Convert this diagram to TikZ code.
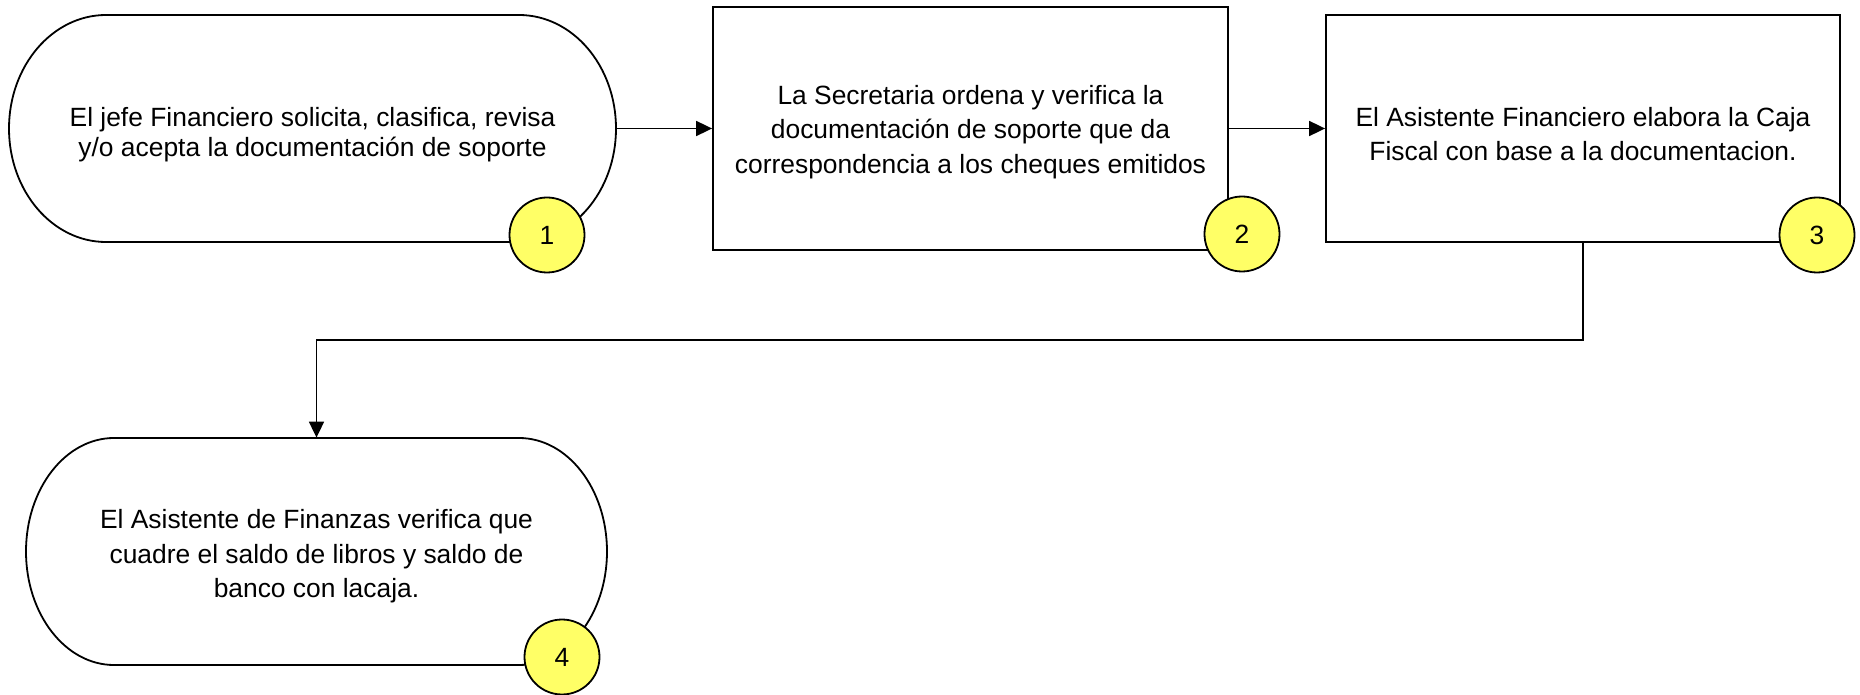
\documentclass[tikz,border=0pt]{standalone}
\usepackage{fontspec}
\setmainfont{Liberation Sans}
\usepackage{tikz}
\usetikzlibrary{arrows.meta}
\usetikzlibrary{positioning}

\begin{document}
\begin{tikzpicture}[x=0.5pt,y=0.5pt,yscale=-1,xscale=1,
  txt/.style={align=center,inner sep=0pt,font=\fontsize{13.2}{17.2}\selectfont},
  proc/.style={draw,line width=0.9pt,inner sep=0pt},
  numb/.style={circle,draw,line width=0.9pt,fill={rgb,255:red,255;green,255;blue,102},minimum size=37.5pt,inner sep=0pt,font=\fontsize{13.2}{15.5}\selectfont},
  arr/.style={line width=0.9pt,-{Triangle[length=8pt,width=7.5pt]}}]
%set diagram left start at 0, and has height of 695
\useasboundingbox (0,0) rectangle (1860,695);

%Shape: Terminator [id:t1]
\draw [line width=0.9pt,fill=white] (106,15) -- (519,15) arc[start angle=-90,end angle=90,x radius=97,y radius=113.5] -- (106,242) arc[start angle=90,end angle=270,x radius=97,y radius=113.5] -- cycle ;
\node (jefe) [inner sep=0pt,minimum width=303.5pt,minimum height=113.5pt] at (312.5,128.5) {};
% Text Node
\node (jefetxt) [txt,font=\fontsize{13.2}{14.8}\selectfont] at ([yshift=3pt]jefe.center) {El jefe Financiero solicita, clasifica, revisa\\y/o acepta la documentación de soporte};

%Shape: Rectangle [id:r2]
\node (secre) [proc,minimum width=257.5pt,minimum height=121.5pt] at (970.5,128.5) {};
% Text Node
\node (secretxt) [txt] at ([yshift=1.8pt]secre.center) {La Secretaria ordena y verifica la\\documentación de soporte que da\\correspondencia a los cheques emitidos};

%Shape: Rectangle [id:r3]
\node (asist) [proc,minimum width=257pt,minimum height=113.5pt] at (1583,128.5) {};
% Text Node
\node (asisttxt) [txt] at ([yshift=2.8pt]asist.center) {El Asistente Financiero elabora la Caja\\Fiscal con base a la documentacion.};

%Shape: Terminator [id:t4]
\draw [line width=0.9pt,fill=white] (114,438) -- (519,438) arc[start angle=-90,end angle=90,x radius=88,y radius=113.5] -- (114,665) arc[start angle=90,end angle=270,x radius=88,y radius=113.5] -- cycle ;
\node (finan) [inner sep=0pt,minimum width=290.5pt,minimum height=113.5pt] at (316.5,551.5) {};
% Text Node
\node (finantxt) [txt] at ([yshift=2.5pt]finan.center) {El Asistente de Finanzas verifica que\\cuadre el saldo de libros y saldo de\\banco con lacaja.};

%Number circles
\node (num1) [numb] at (547,235) {1};
\node (num2) [numb] at (1242,234) {2};
\node (num3) [numb] at (1817,235) {3};
\node (num4) [numb] at (562,657) {4};

%Straight Lines
\draw [arr] (jefe.east) -- (secre.west) ;
\draw [arr] (secre.east) -- (asist.west) ;
\coordinate (codo) at (1583,340);
\draw [arr] (asist.south) -- (codo) -| (finan.north) ;

\end{tikzpicture}
\end{document}
